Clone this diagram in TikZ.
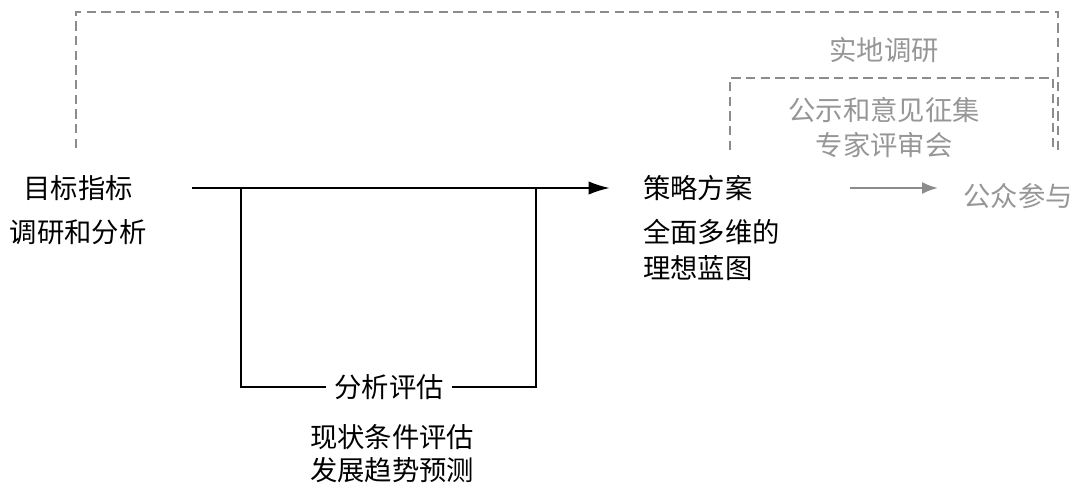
\documentclass[tikz,border=0pt]{standalone}
\usepackage{fontspec}
\newfontfamily\cjk{Noto Sans CJK SC}
\usetikzlibrary{positioning,arrows.meta}
\definecolor{dashgray}{RGB}{140,140,140}
\definecolor{txtgray}{RGB}{150,150,150}
\tikzset{
  lbl/.style={font=\cjk\fontsize{20.5}{24}\selectfont, inner sep=0pt},
  glbl/.style={lbl, text=txtgray},
  route/.style={dashgray, dashed, dash pattern=on 7pt off 4pt, line width=1.6pt},
  mainline/.style={line width=1.6pt}
}
\begin{document}
\begin{tikzpicture}[x=0.75pt,y=-0.75pt]
  \useasboundingbox (0,0) rectangle (1080,489);
  % Nodes
  \node [lbl] (goal) at (78,188) {目标指标};
  \node [lbl] (goalsub) at (78,232) {调研和分析};
  \node [lbl, anchor=west] (plan) at (643,188) {策略方案};
  \node [lbl, anchor=west] (plan2) at (643,232) {全面多维的};
  \node [lbl, anchor=west] (plan3) at (643,268) {理想蓝图};
  \node [lbl] (eval) at (389,387) {分析评估};
  \node [lbl] (eval2) at (392,437) {现状条件评估};
  \node [lbl] (eval3) at (392,470) {发展趋势预测};
  \node [glbl] (pub) at (1018,196) {公众参与};
  \node [glbl] (field) at (884,50) {实地调研};
  \node [glbl] (notice) at (884,110) {公示和意见征集};
  \node [glbl] (expert) at (884,145) {专家评审会};
  \coordinate (start) at (192,188);
  \coordinate (tip) at (610,188);
  \coordinate (ga) at (850,188);
  \coordinate (gb) at (938,188);

  % Connections
  \draw [mainline, -{Latex[length=16pt,width=10pt]}] (start) -- (tip);
  \draw [mainline] (eval.west) ++(-8,0) -| (241,188);
  \draw [mainline] (eval.east) ++(8,0) -| (536,188);
  \draw [dashgray, line width=1.6pt, -{Latex[length=12pt,width=9pt]}] (ga) -- (gb);
  \draw [route] (76,148) -- (76,12) -- (1058,12) -- (1058,150);
  \draw [route] (730,150) -- (730,78) -- (1053,78) -- (1053,148);
\end{tikzpicture}
\end{document}
